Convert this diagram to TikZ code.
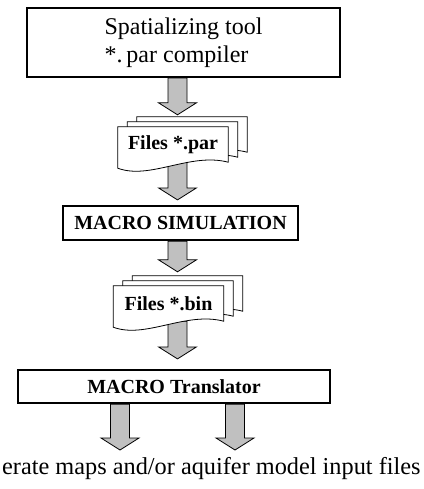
\documentclass[tikz,border=0pt]{standalone}
\usepackage{fontspec}
\setmainfont{Liberation Serif}
\usetikzlibrary{calc,backgrounds}
\definecolor{arrowgray}{RGB}{192,192,192}
\tikzset{
	box/.style={draw, line width=2.2pt, fill=white, inner sep=0pt},
	boldlabel/.style={font=\fontsize{20}{24}\selectfont\bfseries},
	page/.style={draw, line width=0.8pt, fill=white},
	doc/.style={inner sep=0pt, minimum width=110pt, minimum height=35pt, boldlabel},
	fatarrow/.style={draw, line width=0.8pt, fill=arrowgray,
		to path={let \p1=(\tikztostart), \p2=(\tikztotarget) in
			(\x1-9.5pt,\y1) -- (\x1+9.5pt,\y1) -- (\x1+9.5pt,\y2+12pt) -- (\x1+19pt,\y2+12pt)
			-- (\x1,\y2) -- (\x1-19pt,\y2+12pt) -- (\x1-9.5pt,\y2+12pt) -- cycle}}
}
% three sheets behind a document node
\newcommand{\filestack}[1]{%
	\foreach \dx/\dy in {19/10,9.5/5,0/0}
		\draw[page] ([shift={(\dx pt,\dy pt)}]#1.north west) -- ([shift={(\dx pt,\dy pt)}]#1.north east)
		-- ([shift={(\dx pt,\dy pt)}]#1.south east) .. controls +(-38,-10) and +(32,12) .. ([shift={(\dx pt,\dy pt-6pt)}]#1.south west) -- cycle;
}

\begin{document}
\begin{tikzpicture}[x=1pt,y=-1pt]
		\useasboundingbox (0,0) rectangle (423,489);
		
		%%%boxes
		\node[box, minimum width=313pt, minimum height=69pt, align=left, font=\fontsize{24}{28}\selectfont] (tool) at (183.5,42.5) {Spatializing tool\\*.\,par compiler};
		\node[doc] (par) at (173,144.5) {Files *.par};
		\node[box, boldlabel, minimum width=235pt, minimum height=34pt] (sim) at (180.5,223) {MACRO SIMULATION};
		\node[doc] (bin) at (168.5,303.5) {Files *.bin};
		\node[box, boldlabel, minimum width=312pt, minimum height=33pt] (trans) at (174,386.5) {MACRO Translator};
		\node[anchor=base west, inner sep=0pt, font=\fontsize{24.3}{29}\selectfont] (output) at (2,474) {erate maps and/or aquifer model input files};
		
		\coordinate (spine) at (177.5,0);
		\coordinate (outA) at (120,450);
		\coordinate (outB) at (235,450);
		
		%%%arrows and sheets
		\begin{scope}[on background layer]
		\draw[fatarrow] (tool.south -| spine) to ([yshift=12pt]par.north);
		\draw[fatarrow] (par.south -| spine) to ([yshift=5pt]sim.north);
		\draw[fatarrow] (sim.south -| spine) to ([yshift=14pt]bin.north);
		\draw[fatarrow] (bin.south -| spine) to ([yshift=10pt]trans.north);
		\draw[fatarrow] (trans.south -| outA) to (outA);
		\draw[fatarrow] (trans.south -| outB) to (outB);
		
		\filestack{par}
		\filestack{bin}
		\end{scope}
	\end{tikzpicture}
\end{document}
